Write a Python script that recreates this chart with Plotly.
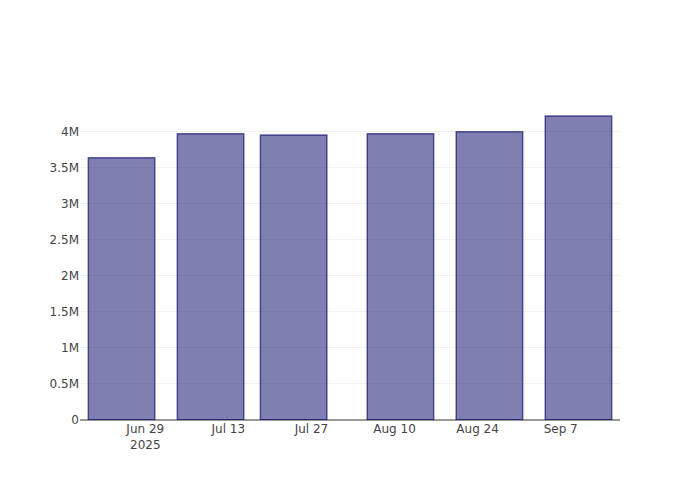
import plotly.graph_objects as go

dates = ["2025-06-25", "2025-07-10", "2025-07-24", "2025-08-11", "2025-08-26", "2025-09-10"]
values = [3640000, 3972000, 3954000, 3970000, 4000000, 4218000]

fig = go.Figure(
    go.Bar(
        x=dates,
        y=values,
        marker=dict(
            color="rgba(0,0,100,0.5)",
            line=dict(color="rgba(0,0,100,0.6)", width=1.5),
        ),
    )
)

fig.update_layout(
    width=700,
    height=500,
    paper_bgcolor="white",
    plot_bgcolor="white",
    font=dict(family="DejaVu Sans, Verdana, sans-serif", size=12, color="#444"),
    margin=dict(l=72, r=88, t=92, b=88),
    showlegend=False,
)
fig.update_xaxes(
    type="date",
    showgrid=False,
    showline=False,
    ticks="",
    dtick=14 * 24 * 3600 * 1000,
    tick0="2025-06-29",
)
fig.update_yaxes(
    showgrid=True,
    gridcolor="#f0f0f0",
    zeroline=True,
    zerolinecolor="#999",
    zerolinewidth=1.5,
    ticks="",
)

fig.write_html("out.html")
